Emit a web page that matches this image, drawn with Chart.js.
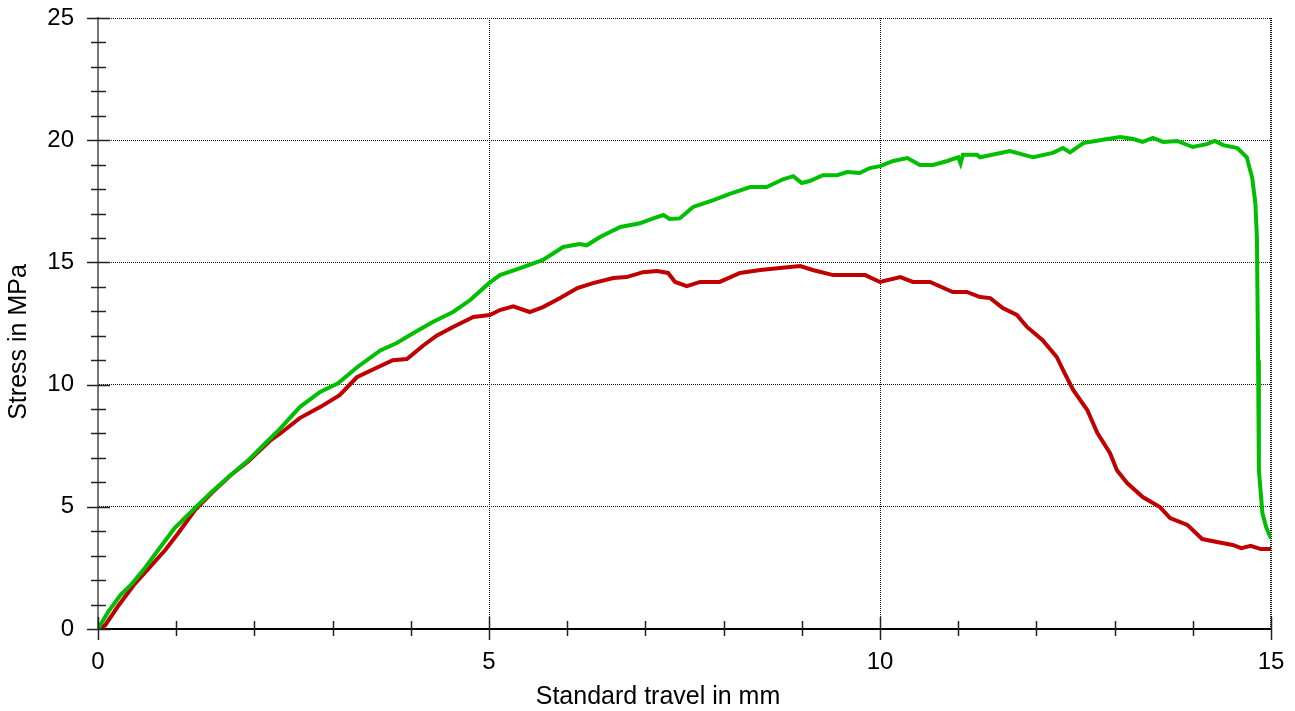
<!DOCTYPE html>
<html>
<head>
<meta charset="utf-8">
<script src="https://cdn.jsdelivr.net/npm/chart.js@4.4.1/dist/chart.umd.min.js"></script>
<style>
  html, body { margin: 0; padding: 0; background: #fff; }
  #wrap { width: 1295px; height: 711px; }
</style>
</head>
<body>
<div id="wrap"><canvas id="chart" width="1295" height="711"></canvas></div>
<script>
// specimen 1 (green)
const travelGreen = [0, 0.13, 0.29, 0.42, 0.6, 0.77, 0.98, 1.24, 1.45, 1.66, 1.92, 2.14, 2.33, 2.58, 2.84, 3.07, 3.31, 3.61, 3.82, 4.03,
    4.28, 4.54, 4.76, 5.0, 5.14, 5.4, 5.69, 5.95, 6.16, 6.25, 6.42, 6.68, 6.93, 7.1, 7.23, 7.31, 7.44, 7.61, 7.87, 8.08,
    8.34, 8.55, 8.76, 8.89, 9.0, 9.1, 9.27, 9.45, 9.58, 9.74, 9.87, 10.0, 10.17, 10.35, 10.51, 10.68, 10.86, 11.0, 11.03, 11.06,
    11.24, 11.28, 11.66, 11.96, 12.21, 12.34, 12.43, 12.6, 12.81, 13.07, 13.24, 13.36, 13.49, 13.62, 13.8, 14.0, 14.18, 14.28, 14.39, 14.57,
    14.69, 14.76, 14.8, 14.82, 14.835, 14.845, 14.89, 14.94, 15.0];
const stressGreen = [0, 0.7, 1.4, 1.8, 2.5, 3.23, 4.13, 4.95, 5.6, 6.2, 6.9, 7.6, 8.2, 9.08, 9.7, 10.05, 10.7, 11.4, 11.7, 12.1,
    12.56, 12.97, 13.46, 14.15, 14.48, 14.77, 15.1, 15.63, 15.75, 15.7, 16.04, 16.45, 16.6, 16.8, 16.94, 16.78, 16.8, 17.27, 17.55, 17.8,
    18.08, 18.08, 18.4, 18.53, 18.25, 18.33, 18.57, 18.57, 18.7, 18.66, 18.86, 18.94, 19.15, 19.27, 18.99, 18.99, 19.15, 19.3, 19.05, 19.4,
    19.4, 19.3, 19.56, 19.3, 19.48, 19.68, 19.5, 19.88, 20.0, 20.13, 20.05, 19.93, 20.09, 19.93, 19.97, 19.72, 19.84, 19.97, 19.8, 19.68,
    19.3, 18.45, 17.43, 16.0, 11.0, 6.5, 4.75, 4.15, 3.7];

// specimen 2 (red)
const travelRed = [0, 0.09, 0.26, 0.47, 0.64, 0.86, 1.02, 1.24, 1.45, 1.7, 1.92, 2.21, 2.33, 2.58, 2.84, 3.09, 3.31, 3.57, 3.77, 3.95,
    4.16, 4.33, 4.54, 4.8, 5.01, 5.14, 5.31, 5.52, 5.69, 5.91, 6.13, 6.33, 6.59, 6.76, 6.97, 7.15, 7.29, 7.38, 7.53, 7.7,
    7.95, 8.21, 8.47, 8.72, 8.98, 9.14, 9.4, 9.65, 9.81, 10.0, 10.26, 10.42, 10.64, 10.93, 11.11, 11.28, 11.41, 11.57, 11.75, 11.88,
    12.08, 12.26, 12.34, 12.47, 12.65, 12.78, 12.94, 13.03, 13.16, 13.36, 13.58, 13.71, 13.93, 14.12, 14.31, 14.51, 14.62, 14.74, 14.87, 15.0];
const stressRed = [0, 0.15, 0.95, 1.85, 2.45, 3.23, 3.9, 4.87, 5.55, 6.3, 6.85, 7.73, 8.0, 8.63, 9.08, 9.57, 10.3, 10.7, 11.0, 11.05,
    11.6, 12.0, 12.36, 12.77, 12.85, 13.05, 13.2, 12.97, 13.17, 13.54, 13.95, 14.15, 14.36, 14.4, 14.6, 14.65, 14.57, 14.2, 14.03, 14.2,
    14.2, 14.57, 14.69, 14.77, 14.85, 14.69, 14.48, 14.48, 14.48, 14.2, 14.4, 14.2, 14.2, 13.79, 13.79, 13.58, 13.54, 13.13, 12.85, 12.36,
    11.82, 11.13, 10.6, 9.78, 8.96, 8.02, 7.2, 6.5, 5.97, 5.4, 4.99, 4.54, 4.26, 3.68, 3.56, 3.44, 3.31, 3.4, 3.27, 3.27];

const xLabel = "Standard travel in mm";
const yLabel = "Stress in MPa";
const FONT = '"Liberation Sans", Arial, sans-serif';

function toPoints(xs, ys) {
    let pts = [];
    for (let i = 0; i < xs.length; i++) pts.push({x: xs[i], y: ys[i]});
    return pts;
}

// tick marks crossing the axes + axis titles
const axisDecor = {
    id: 'axisDecor',
    afterDraw(chart) {
        const ctx = chart.ctx;
        const xs = chart.scales.x, ys = chart.scales.y;
        const area = chart.chartArea;
        ctx.save();
        ctx.strokeStyle = '#222';
        ctx.lineWidth = 1.5;
        for (let v = 0; v <= 25; v++) {
            let py = Math.round(ys.getPixelForValue(v)) + 0.5;
            let major = v % 5 == 0;
            ctx.beginPath();
            ctx.moveTo(area.left - (major ? 11 : 7), py);
            ctx.lineTo(area.left + (major ? 12 : 8), py);
            ctx.stroke();
        }
        for (let v = 0; v <= 15; v++) {
            let px = Math.round(xs.getPixelForValue(v)) + 0.5;
            let major = v % 5 == 0;
            ctx.beginPath();
            ctx.moveTo(px, area.bottom - (major ? 12 : 8));
            ctx.lineTo(px, area.bottom + (major ? 11 : 7));
            ctx.stroke();
        }
        ctx.fillStyle = '#000';
        ctx.font = '25px ' + FONT;
        ctx.textAlign = 'center';
        ctx.textBaseline = 'middle';
        ctx.fillText(xLabel, 658, 697);
        ctx.translate(19, 342);
        ctx.rotate(-Math.PI / 2);
        ctx.fillText(yLabel, 0, 0);
        ctx.restore();
    }
};

const gridColor = (c) => (c.tick && c.tick.value % 5 == 0 && c.tick.value > 0) ? '#111' : 'rgba(0,0,0,0)';

const config = {
    type: 'line',
    data: {
        datasets: [{
            label: 'Specimen 1',
            data: toPoints(travelGreen, stressGreen),
            borderColor: '#00bf00',
            borderWidth: 4,
            pointRadius: 0,
            tension: 0
        }, {
            label: 'Specimen 2',
            data: toPoints(travelRed, stressRed),
            borderColor: '#c00000',
            borderWidth: 4,
            pointRadius: 0,
            tension: 0
        }]
    },
    options: {
        responsive: false,
        animation: false,
        layout: { padding: { left: 0, right: 24, top: 18, bottom: 0 } },
        plugins: {
            legend: { display: false },
            tooltip: { enabled: false }
        },
        scales: {
            x: {
                type: 'linear',
                min: 0,
                max: 15,
                afterFit: (scale) => {
                    scale.height = 82;
                    scale.paddingLeft = 0;
                    scale.paddingRight = 0;
                },
                // v4: border.dash is used for the grid lines, the axis line stays solid
                border: { display: true, color: '#000', width: 2, dash: [1, 1] },
                grid: {
                    drawTicks: false,
                    color: gridColor,
                    lineWidth: (c) => (c.tick && c.tick.value == 15) ? 2 : 1
                },
                ticks: {
                    stepSize: 1,
                    autoSkip: false,
                    maxRotation: 0,
                    padding: 19,
                    color: '#000',
                    font: { family: FONT, size: 24 },
                    callback: (v) => v % 5 == 0 ? v : ''
                }
            },
            y: {
                min: 0,
                max: 25,
                afterFit: (scale) => {
                    scale.width = 98;
                    scale.paddingTop = 0;
                    scale.paddingBottom = 0;
                },
                border: { display: true, color: '#777', width: 2, dash: [1, 1] },
                grid: {
                    drawTicks: false,
                    color: gridColor
                },
                ticks: {
                    stepSize: 1,
                    autoSkip: false,
                    padding: 24,
                    color: '#000',
                    font: { family: FONT, size: 24 },
                    callback: (v) => v % 5 == 0 ? v : ''
                }
            }
        }
    },
    plugins: [axisDecor]
};

const myChart = new Chart(document.getElementById('chart'), config);
</script>
</body>
</html>
